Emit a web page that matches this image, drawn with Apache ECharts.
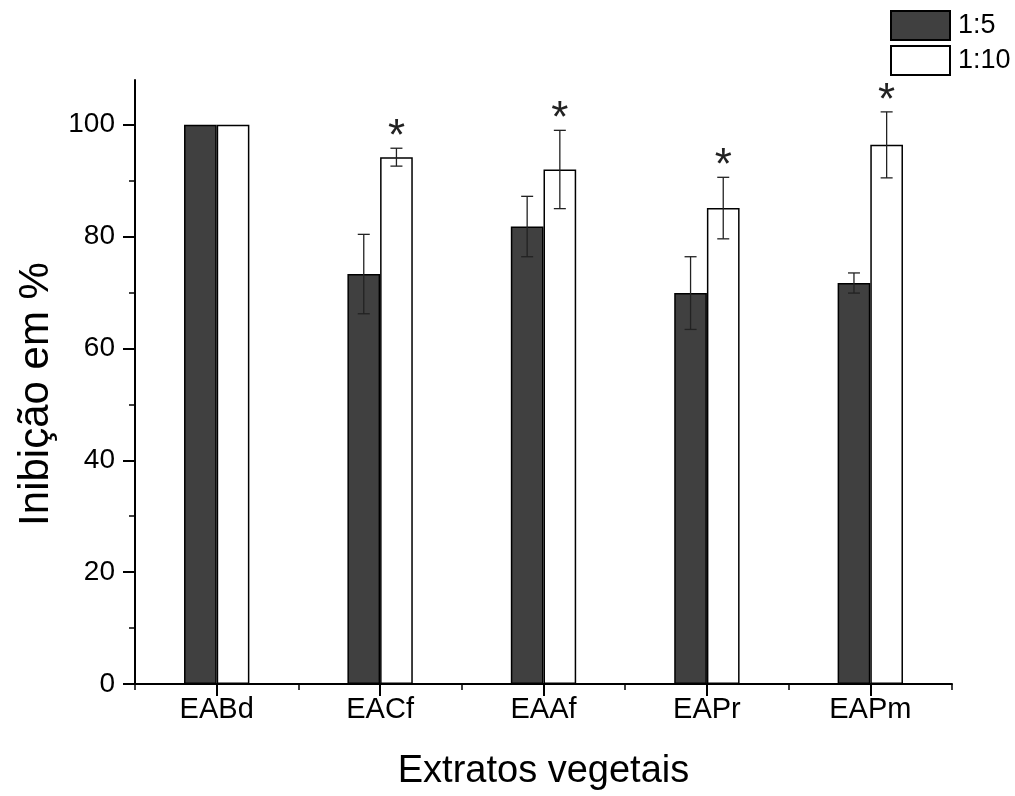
<!DOCTYPE html>
<html>
<head>
<meta charset="utf-8">
<title>Inibição em %</title>
<script src="https://cdn.jsdelivr.net/npm/echarts@6/dist/echarts.min.js"></script>
<style>
  html, body { margin: 0; padding: 0; background: #ffffff; }
  #chart { width: 1015px; height: 796px; }
</style>
</head>
<body>
<div id="chart"></div>
<script>
// Extract categories
const categories = ['EABd', 'EACf', 'EAAf', 'EAPr', 'EAPm'];
// Mean inhibition (%) per dilution
const ratio5 = [100, 73.3, 81.8, 69.9, 71.7];
const ratio10 = [100, 94.2, 92.0, 85.1, 96.4];
// Standard deviations
const err5 = [0, 7.1, 5.4, 6.5, 1.8];
const err10 = [0, 1.6, 7.0, 5.5, 5.9];
// Significance markers above the 1:10 bars
const sig10 = ['', '*', '*', '*', '*'];
// Axis ticks
const yMajorTicks = [0, 20, 40, 60, 80, 100];
const yMinorTicks = [10, 30, 50, 70, 90];

const FONT = 'Liberation Sans, Arial, sans-serif';
const chart = echarts.init(document.getElementById('chart'));

// Error bars drawn at the centre of the left (1:5) or right (1:10) bar
function errorBarSeries(name, means, errs, side, marks) {
  return {
    type: 'custom',
    name: name + ' err',
    xAxisIndex: 0,
    yAxisIndex: 0,
    z: 5,
    silent: true,
    data: means.map((m, i) => [i, m, errs[i]]),
    renderItem: function (params, api) {
      const idx = api.value(0);
      const mean = api.value(1);
      const err = api.value(2);
      const mark = marks ? marks[idx] : '';
      const band = api.size([1, 0])[0];
      const center = api.coord([idx, mean]);
      const x = center[0] + side * band * 0.1;
      const top = api.coord([idx, mean + err])[1];
      const bot = api.coord([idx, mean - err])[1];
      const cap = 6;
      const children = [];
      if (err > 0) {
        const ls = { stroke: '#222', lineWidth: 1.3 };
        children.push({ type: 'line', shape: { x1: x, y1: top, x2: x, y2: bot }, style: ls });
        children.push({ type: 'line', shape: { x1: x - cap, y1: top, x2: x + cap, y2: top }, style: ls });
        children.push({ type: 'line', shape: { x1: x - cap, y1: bot, x2: x + cap, y2: bot }, style: ls });
      }
      if (mark) {
        children.push({
          type: 'text',
          style: {
            text: mark, x: x, y: top - 10,
            font: '44px ' + FONT, fill: '#222',
            align: 'center', verticalAlign: 'middle'
          }
        });
      }
      return { type: 'group', children: children };
    }
  };
}

const option = {
  backgroundColor: '#ffffff',
  animation: false,
  textStyle: { fontFamily: FONT, color: '#000' },
  grid: { left: 135, right: 63, top: 80, bottom: 112, containLabel: false },
  legend: {
    data: ['1:5', '1:10'],
    orient: 'vertical',
    left: 890,
    top: 10,
    padding: 0,
    itemWidth: 59,
    itemHeight: 29,
    itemGap: 4,
    icon: 'rect',
    textStyle: { fontFamily: FONT, fontSize: 27, color: '#000', padding: [0, 0, 0, 3] }
  },
  xAxis: [
    {
      type: 'category',
      data: categories,
      name: 'Extratos vegetais',
      nameLocation: 'middle',
      nameGap: 69,
      nameTextStyle: { fontFamily: FONT, fontSize: 38, color: '#000' },
      axisLine: { show: true, lineStyle: { color: '#000', width: 2 } },
      axisTick: { show: true, alignWithLabel: true, length: 12, lineStyle: { color: '#000', width: 2 } },
      axisLabel: { fontFamily: FONT, fontSize: 29, color: '#000', margin: 11 },
      splitLine: { show: false }
    },
    {
      // boundary (minor) ticks between categories
      type: 'category',
      data: categories,
      position: 'bottom',
      axisLine: { show: false },
      axisTick: { show: true, length: 6, lineStyle: { color: '#000', width: 1.5 } },
      axisLabel: { show: false },
      splitLine: { show: false }
    }
  ],
  yAxis: [
    {
      type: 'value',
      min: 0,
      max: 108,
      interval: 20,
      name: 'Inibição em %',
      nameLocation: 'middle',
      nameGap: 78,
      nameTextStyle: { fontFamily: FONT, fontSize: 42, color: '#000', padding: [0, 24, 0, 0] },
      axisLine: { show: true, lineStyle: { color: '#000', width: 2 } },
      axisTick: { show: true, length: 12, customValues: yMajorTicks, lineStyle: { color: '#000', width: 2 } },
      axisLabel: { fontFamily: FONT, fontSize: 28, color: '#000', margin: 20, customValues: yMajorTicks },
      splitLine: { show: false }
    },
    {
      // minor ticks
      type: 'value',
      min: 0,
      max: 108,
      interval: 20,
      position: 'left',
      axisLine: { show: false },
      axisTick: { show: true, length: 6, customValues: yMinorTicks, lineStyle: { color: '#000', width: 1.5 } },
      axisLabel: { show: false },
      splitLine: { show: false }
    }
  ],
  series: [
    {
      name: '1:5',
      type: 'bar',
      data: ratio5,
      barWidth: '20%',
      barGap: '0%',
      itemStyle: { color: '#404040', borderColor: '#000', borderWidth: 1.5 }
    },
    {
      name: '1:10',
      type: 'bar',
      data: ratio10,
      barWidth: '20%',
      barGap: '0%',
      itemStyle: { color: '#ffffff', borderColor: '#000', borderWidth: 1.5 }
    },
    errorBarSeries('1:5', ratio5, err5, -1, null),
    errorBarSeries('1:10', ratio10, err10, 1, sig10)
  ]
};

chart.setOption(option);
</script>
</body>
</html>
